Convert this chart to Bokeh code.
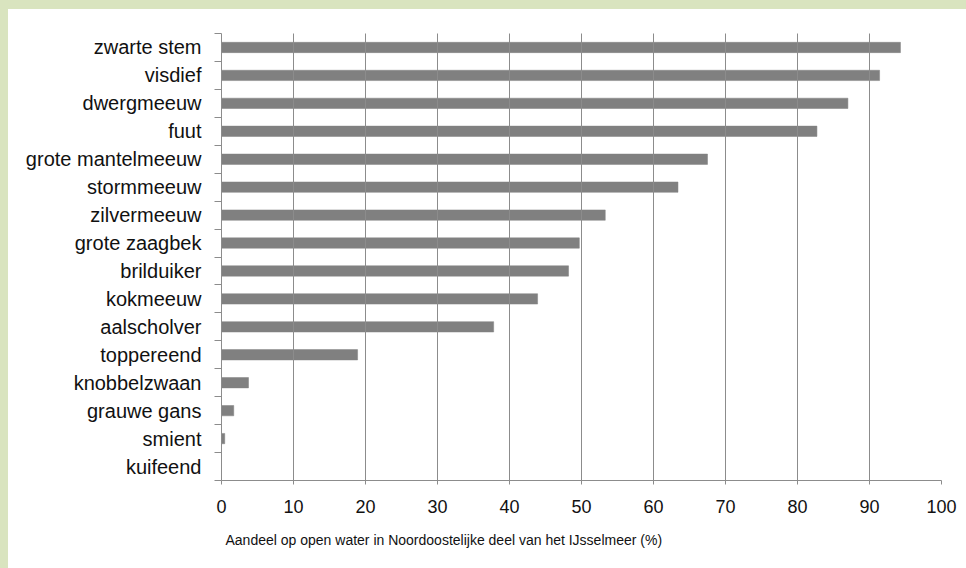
from bokeh.plotting import figure
from bokeh.models import ColumnDataSource, Range1d, FixedTicker, Title, Spacer
from bokeh.layouts import column, row
from bokeh.embed import file_html
from bokeh.resources import INLINE

# ---- data (top to bottom as in the chart) ----
categories = ["zwarte stem", "visdief", "dwergmeeuw", "fuut", "grote mantelmeeuw",
              "stormmeeuw", "zilvermeeuw", "grote zaagbek", "brilduiker", "kokmeeuw",
              "aalscholver", "toppereend", "knobbelzwaan", "grauwe gans", "smient", "kuifeend"]
values = [94.3, 91.4, 87.0, 82.7, 67.5, 63.4, 53.3, 49.7, 48.2, 43.9,
          37.8, 18.9, 3.75, 1.7, 0.45, 0.0]
x_ticks = [0, 10, 20, 30, 40, 50, 60, 70, 80, 90, 100]
x_title = "Aandeel op open water in Noordoostelijke deel van het IJsselmeer  (%)"

n = len(categories)
ypos = [n - 0.5 - i for i in range(n)]
source = ColumnDataSource(dict(cat=categories, v=values, y=ypos))

GRID = "#8c8c8c"
BAR = "#808080"
GREEN = "#d9e4bf"
FONT = "Liberation Sans"

p = figure(width=958, height=559, output_backend="svg", toolbar_location=None,
           x_range=Range1d(0, 100), y_range=Range1d(0, n),
           min_border_left=213, min_border_right=25, min_border_top=24, min_border_bottom=88)
p.background_fill_color = "white"
p.border_fill_color = "white"
p.outline_line_color = None

p.hbar(y="y", right="v", left=0, height=0.37, source=source,
       fill_color=BAR, line_color=BAR, line_width=0.5)

# x axis
xa = p.xaxis[0]
xa.ticker = FixedTicker(ticks=x_ticks, minor_ticks=[])
xa.axis_line_color = GRID
xa.major_tick_line_color = GRID
xa.major_tick_in = 0
xa.major_tick_out = 4
xa.minor_tick_line_color = None
xa.major_label_standoff = 15
xa.major_label_text_font = FONT
xa.major_label_text_font_size = "18px"
xa.major_label_text_color = "#111111"

# y axis: labels at band centres, small ticks at band boundaries
ya = p.yaxis[0]
ya.ticker = FixedTicker(ticks=ypos, minor_ticks=list(range(n + 1)))
ya.major_label_overrides = {float(y): c for y, c in zip(ypos, categories)}
ya.axis_line_color = GRID
ya.major_tick_line_color = None
ya.major_tick_in = 0
ya.major_tick_out = 0
ya.minor_tick_line_color = GRID
ya.minor_tick_in = 0
ya.minor_tick_out = 7
ya.major_label_standoff = 13
ya.major_label_text_font = FONT
ya.major_label_text_font_size = "20px"
ya.major_label_text_color = "#111111"

p.xgrid.grid_line_color = GRID
p.xgrid.grid_line_width = 1
p.xgrid.level = "overlay"
p.ygrid.visible = False

p.add_layout(Title(text=x_title, align="left", offset=4, standoff=29,
                   text_font=FONT, text_font_size="14px", text_font_style="normal",
                   text_color="#111111"), "below")

layout = column(
    Spacer(width=966, height=9, styles={"background-color": GREEN}),
    row(Spacer(width=8, height=559, styles={"background-color": GREEN}), p),
)

open("out.html", "w").write(file_html(layout, INLINE))
